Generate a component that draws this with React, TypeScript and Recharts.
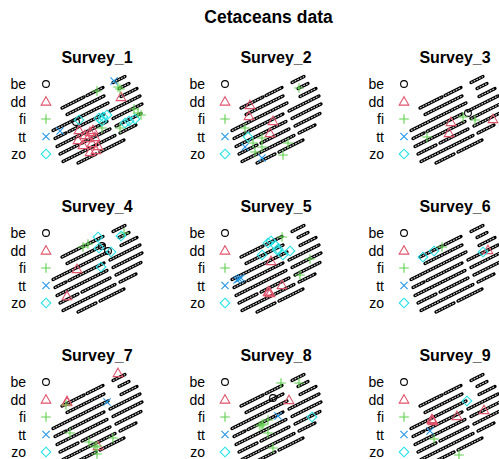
import React from 'react';
import { ScatterChart, Scatter, XAxis, YAxis } from 'recharts';

// species codes, in legend order
const species = ['be', 'dd', 'fi', 'tt', 'zo'];
const speciesColor: Record<string, string> = {
  be: '#000000',
  dd: '#DF536B',
  fi: '#61D04F',
  tt: '#2297E6',
  zo: '#28E2E5',
};

const surveyNames = [
  'Survey_1', 'Survey_2', 'Survey_3',
  'Survey_4', 'Survey_5', 'Survey_6',
  'Survey_7', 'Survey_8', 'Survey_9',
];

// transect segments (same design for every survey), grid units: [x1, y1, x2, y2]
const transects: number[][] = [
  [62, 108, 84, 97], [87, 95.5, 103, 87.5], [113, 82.5, 125, 76.5],
  [67, 114.5, 104, 96], [119, 88.5, 129, 83.5],
  [53, 130.5, 108, 103], [121, 96.5, 137, 88.5],
  [55, 138.5, 66, 133], [69, 131.5, 104, 114], [110, 111, 140, 96],
  [57, 146.5, 107, 121.5], [113, 118.5, 142, 104],
  [60, 154, 78, 145], [82, 143, 110, 129], [116, 126, 141, 113.5],
  [63, 161.5, 115, 135.5], [120, 133, 136, 125],
  [78, 163, 96, 154], [100, 152, 124, 140],
];

// sightings per survey: [x, y, species]
const survey1: [number, number, string][] = [
  [114, 81, 'tt'], [60, 131, 'tt'],
  [97, 91, 'fi'], [118, 87, 'fi'], [120, 89, 'fi'], [134, 109, 'fi'], [141, 115, 'fi'], [138, 113, 'fi'], [120, 128, 'fi'], [102, 128, 'fi'],
  [121, 97, 'dd'], [79, 130, 'dd'], [78, 140, 'dd'], [90, 132, 'dd'], [93, 130, 'dd'], [88, 138, 'dd'], [95, 137, 'dd'], [92, 143, 'dd'], [98, 146, 'dd'], [83, 145, 'dd'], [85, 135, 'dd'], [96, 150, 'dd'], [90, 152, 'dd'],
  [76, 122, 'be'],
  [79, 120, 'zo'], [99, 118, 'zo'], [103, 117, 'zo'], [107, 115, 'zo'], [102, 121, 'zo'], [125, 123, 'zo'], [135, 119, 'zo'], [129, 121, 'zo'],
];
const survey2: [number, number, string][] = [
  [120, 88, 'fi'], [66, 128, 'fi'], [83, 138, 'fi'], [74, 143, 'fi'], [109, 143, 'fi'], [83, 147, 'fi'], [76, 152, 'fi'], [104, 155, 'fi'],
  [71, 105, 'dd'], [70, 116, 'dd'], [94, 121, 'dd'], [91, 133, 'dd'],
  [69, 137, 'zo'],
  [66, 147, 'tt'], [83, 158, 'tt'],
];
const survey3: [number, number, string][] = [
  [93, 122, 'dd'], [91, 133, 'dd'], [135, 119, 'dd'],
  [105, 117, 'fi'], [117, 120, 'fi'], [69, 137, 'fi'],
  [110, 113, 'be'],
];
const survey4: [number, number, string][] = [
  [83, 98, 'fi'], [88, 95, 'fi'], [124, 84, 'fi'],
  [98, 88, 'zo'], [121, 87, 'zo'], [99, 99, 'zo'], [111, 103, 'zo'], [101, 118, 'zo'],
  [102, 97, 'be'], [108, 102, 'be'],
  [77, 120, 'dd'], [67, 147, 'dd'],
];
const survey5: [number, number, string][] = [
  [103, 88, 'fi'], [131, 110, 'fi'], [121, 126, 'fi'],
  [89, 94, 'zo'], [92, 92, 'zo'], [96, 96, 'zo'], [99, 100, 'zo'], [98, 101, 'zo'], [83, 106, 'zo'], [104, 106, 'zo'], [111, 102, 'zo'],
  [92, 112, 'dd'], [103, 136, 'dd'], [89, 143, 'dd'], [91, 144, 'dd'], [90, 142.5, 'dd'],
  [58, 131, 'tt'], [62, 129, 'tt'], [60, 130, 'tt'],
];
const survey6: [number, number, string][] = [
  [65, 108, 'zo'], [76, 102, 'zo'], [125, 103, 'zo'],
  [84, 98, 'fi'],
  [130, 101, 'dd'],
];
const survey7: [number, number, string][] = [
  [118, 75, 'dd'], [67, 104, 'dd'], [67, 103, 'dd'], [98, 148, 'dd'],
  [66, 107, 'fi'], [70, 135, 'fi'], [89, 144, 'fi'], [95, 149, 'fi'], [97, 148, 'fi'], [113, 140, 'fi'], [97, 156, 'fi'],
  [107, 104, 'tt'],
];
const survey8: [number, number, string][] = [
  [102, 85, 'fi'], [120, 85, 'fi'], [89, 122, 'fi'], [83, 127, 'fi'], [81, 128, 'fi'], [84, 126, 'fi'], [89, 135, 'fi'], [94, 150, 'fi'],
  [94, 100, 'be'],
  [110, 102, 'dd'],
  [99, 118, 'tt'],
  [133, 119, 'zo'],
];
const survey9: [number, number, string][] = [
  [109, 103, 'zo'],
  [126, 112, 'dd'], [99, 118, 'dd'], [74, 121, 'dd'], [75, 123, 'dd'], [74, 122, 'dd'],
  [72, 133, 'tt'],
  [76, 141, 'fi'], [101, 157, 'fi'],
];

const sightings = [survey1, survey2, survey3, survey4, survey5, survey6, survey7, survey8, survey9];

const PW = 179;
const PH = 172;
const colX = [0, 179, 358];
const rowY = [0, 149, 298];

function Glyph({ cx, cy, kind }: { cx: number; cy: number; kind: string }) {
  const c = speciesColor[kind];
  const s = 4.8;
  const w = 1.1;
  if (kind === 'be') return <circle cx={cx} cy={cy} r={3.4} fill="none" stroke={c} strokeWidth={w} />;
  if (kind === 'dd')
    return (
      <polygon
        points={`${cx},${cy - s} ${cx + s},${cy + s - 1.2} ${cx - s},${cy + s - 1.2}`}
        fill="none" stroke={c} strokeWidth={w}
      />
    );
  if (kind === 'fi')
    return <path d={`M${cx - s},${cy}H${cx + s}M${cx},${cy - s}V${cy + s}`} stroke={c} strokeWidth={w} />;
  if (kind === 'tt')
    return <path d={`M${cx - 3.6},${cy - 3.6}L${cx + 3.6},${cy + 3.6}M${cx - 3.6},${cy + 3.6}L${cx + 3.6},${cy - 3.6}`} stroke={c} strokeWidth={w} />;
  return (
    <polygon points={`${cx},${cy - s} ${cx + s},${cy} ${cx},${cy + s} ${cx - s},${cy}`} fill="none" stroke={c} strokeWidth={w} />
  );
}

function Panel({ index }: { index: number }) {
  const col = index % 3;
  const row = Math.floor(index / 3);
  const rows = sightings[index];
  return (
    <div style={{ position: 'absolute', left: colX[col], top: rowY[row], width: PW, height: PH }}>
      <div style={{ position: 'absolute', left: 0, width: 194, top: 48, lineHeight: '20px', textAlign: 'center', fontSize: 16, fontWeight: 'bold' }}>
        {surveyNames[index]}
      </div>
      <svg width={60} height={PH} style={{ position: 'absolute', left: 0, top: 0 }}>
        {species.map((sp, i) => (
          <g key={sp}>
            <text x={26} y={84 + 17.5 * i} textAnchor="end" dominantBaseline="central" fontSize={14} fill="#000">
              {sp}
            </text>
            <Glyph cx={46} cy={84 + 17.5 * i} kind={sp} />
          </g>
        ))}
      </svg>
      <div style={{ position: 'absolute', left: 0, top: 0 }}>
        <ScatterChart width={PW} height={PH} margin={{ top: 0, right: 0, bottom: 0, left: 0 }}>
          <XAxis type="number" dataKey="x" domain={[0, PW]} hide />
          <YAxis type="number" dataKey="y" domain={[0, PH]} reversed hide />
          {transects.map((t, i) => (
            <Scatter
              key={`t${i}`}
              data={[{ x: t[0], y: t[1] }, { x: t[2], y: t[3] }]}
              line={{ stroke: '#000', strokeWidth: 3.3, strokeLinecap: 'round' }}
              shape={() => <g />}
              isAnimationActive={false}
            />
          ))}
          {transects.map((t, i) => (
            <Scatter
              key={`d${i}`}
              data={[{ x: t[0], y: t[1] }, { x: t[2], y: t[3] }]}
              line={{ stroke: '#d6d6d6', strokeWidth: 1.1, strokeDasharray: '1.8 1.2' }}
              shape={() => <g />}
              isAnimationActive={false}
            />
          ))}
          {species.map((sp) => (
            <Scatter
              key={sp}
              data={rows.filter((r) => r[2] === sp).map((r) => ({ x: r[0], y: r[1] }))}
              shape={(p: any) => <Glyph cx={p.cx} cy={p.cy} kind={sp} />}
              isAnimationActive={false}
            />
          ))}
        </ScatterChart>
      </div>
    </div>
  );
}

export default function App() {
  return (
    <div
      style={{
        position: 'absolute', left: 0, top: 0, width: 499, height: 459, overflow: 'hidden',
        background: '#fff', fontFamily: '"Liberation Sans", Arial, sans-serif', color: '#000',
      }}
    >
      <div style={{ position: 'absolute', left: 0, width: 537, top: 7, lineHeight: '20px', textAlign: 'center', fontSize: 17.5, fontWeight: 'bold' }}>
        Cetaceans data
      </div>
      {surveyNames.map((_, i) => (
        <Panel key={i} index={i} />
      ))}
    </div>
  );
}
